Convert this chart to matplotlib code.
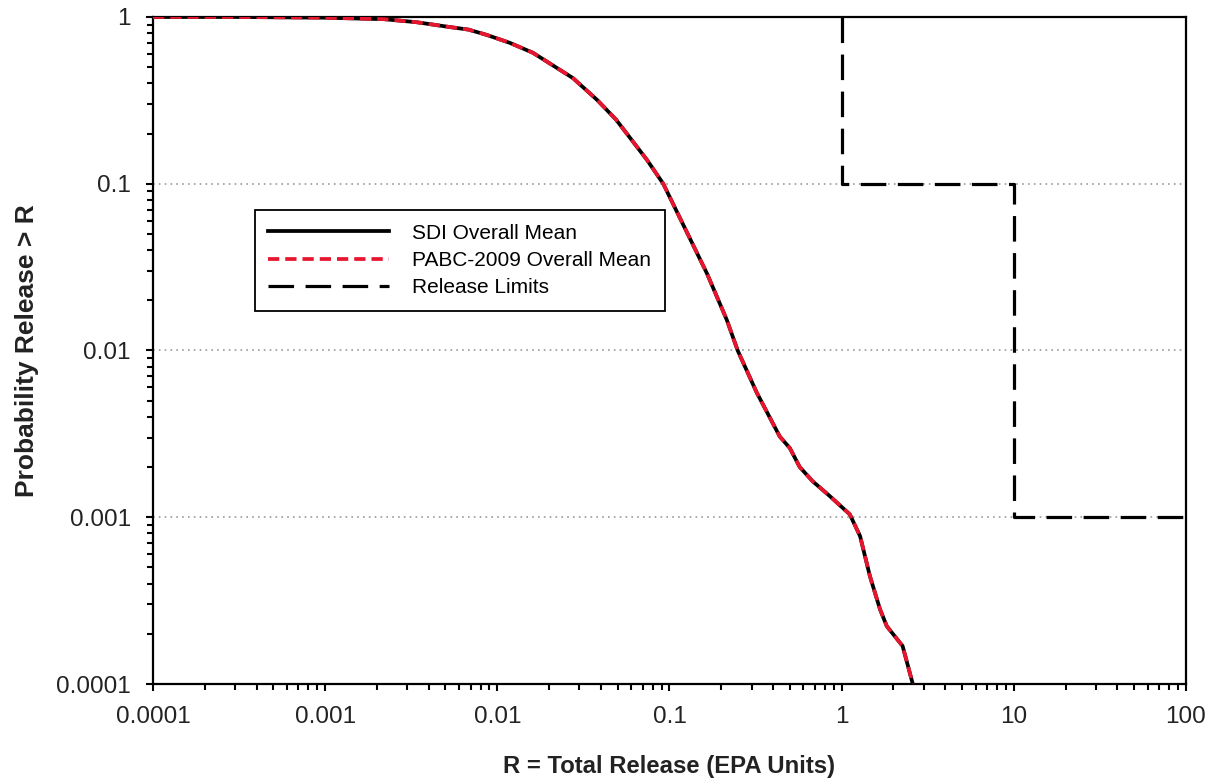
import matplotlib
matplotlib.use('Agg')
import matplotlib.pyplot as plt
from matplotlib.ticker import FixedLocator, LogLocator, NullFormatter, FuncFormatter

plt.rcParams['font.family'] = ['Liberation Sans', 'DejaVu Sans']

# complementary cumulative release curve
release = [1e-4, 3e-4, 1e-3, 0.0022, 0.0034, 0.0053, 0.0068, 0.0087, 0.0118, 0.0161,
           0.0275, 0.038, 0.049, 0.074, 0.092, 0.165, 0.215, 0.249, 0.321, 0.437,
           0.50, 0.571, 0.68, 0.853, 1.116, 1.28, 1.46, 1.67, 1.83, 2.26, 2.59]
prob_sdi = [1.0, 1.0, 0.99, 0.97, 0.93, 0.87, 0.84, 0.78, 0.70, 0.61,
            0.43, 0.318, 0.242, 0.139, 0.1, 0.029, 0.0153, 0.01, 0.0056, 0.00305,
            0.0026, 0.0020, 0.00164, 0.00134, 0.00104, 0.00077, 0.000443, 0.000281, 0.000222, 0.000169, 0.0001]
prob_pabc = list(prob_sdi)

# release limits
limit_x = [1, 1, 10, 10, 100]
limit_y = [1, 0.1, 0.1, 0.001, 0.001]

xticks = [1e-4, 1e-3, 1e-2, 1e-1, 1, 10, 100]
yticks = [1e-4, 1e-3, 1e-2, 1e-1, 1]

fig = plt.figure(figsize=(12.2, 7.82), dpi=100)
ax = fig.add_axes([0.1254, 0.1253, 0.8467, 0.853])

ax.set_xscale('log')
ax.set_yscale('log')
ax.set_xlim(1e-4, 100)
ax.set_ylim(1e-4, 1)

for y in yticks[1:-1]:
    ax.axhline(y, color='#9a9a9a', lw=1.2, ls=(0, (1, 2.5)), zorder=1)

ax.plot(release, prob_sdi, color='black', lw=2.7, label='SDI Overall Mean', zorder=3)
ax.plot(release, prob_pabc, color='#e8152f', lw=2.7, dashes=(3, 1.6),
        label='PABC-2009 Overall Mean', zorder=4)
ax.plot(limit_x, limit_y, color='black', lw=2.3, dashes=(8, 3.6),
        label='Release Limits', zorder=2)

ax.xaxis.set_major_locator(FixedLocator(xticks))
ax.yaxis.set_major_locator(FixedLocator(yticks))
ax.xaxis.set_minor_locator(LogLocator(base=10, subs=range(2, 10), numticks=20))
ax.yaxis.set_minor_locator(LogLocator(base=10, subs=range(2, 10), numticks=20))
ax.xaxis.set_minor_formatter(NullFormatter())
ax.yaxis.set_minor_formatter(NullFormatter())
fmt = FuncFormatter(lambda v, p: '%g' % v)
ax.xaxis.set_major_formatter(fmt)
ax.yaxis.set_major_formatter(fmt)

ax.tick_params(which='both', direction='out', width=1.5, colors='black',
               labelsize=17.5, labelcolor='#222222', pad=11)
ax.tick_params(which='major', length=5)
ax.tick_params(which='minor', length=4)

for s in ax.spines.values():
    s.set_linewidth(1.6)
    s.set_color('black')

ax.set_xlabel('R = Total Release (EPA Units)', fontsize=17.2, fontweight='bold',
              labelpad=19, color='#222222')
ax.set_ylabel('Probability Release > R', fontsize=19, fontweight='bold',
              labelpad=12, color='#222222')

leg = ax.legend(loc='upper left', bbox_to_anchor=(0.0987, 0.7106), borderaxespad=0,
                fontsize=15, handlelength=5.8, handletextpad=1.1,
                labelspacing=0.4, borderpad=0.65, fancybox=False, framealpha=1)
leg.get_frame().set_edgecolor('black')
leg.get_frame().set_linewidth(1.3)

fig.savefig('out.png', dpi=100, facecolor='white')
